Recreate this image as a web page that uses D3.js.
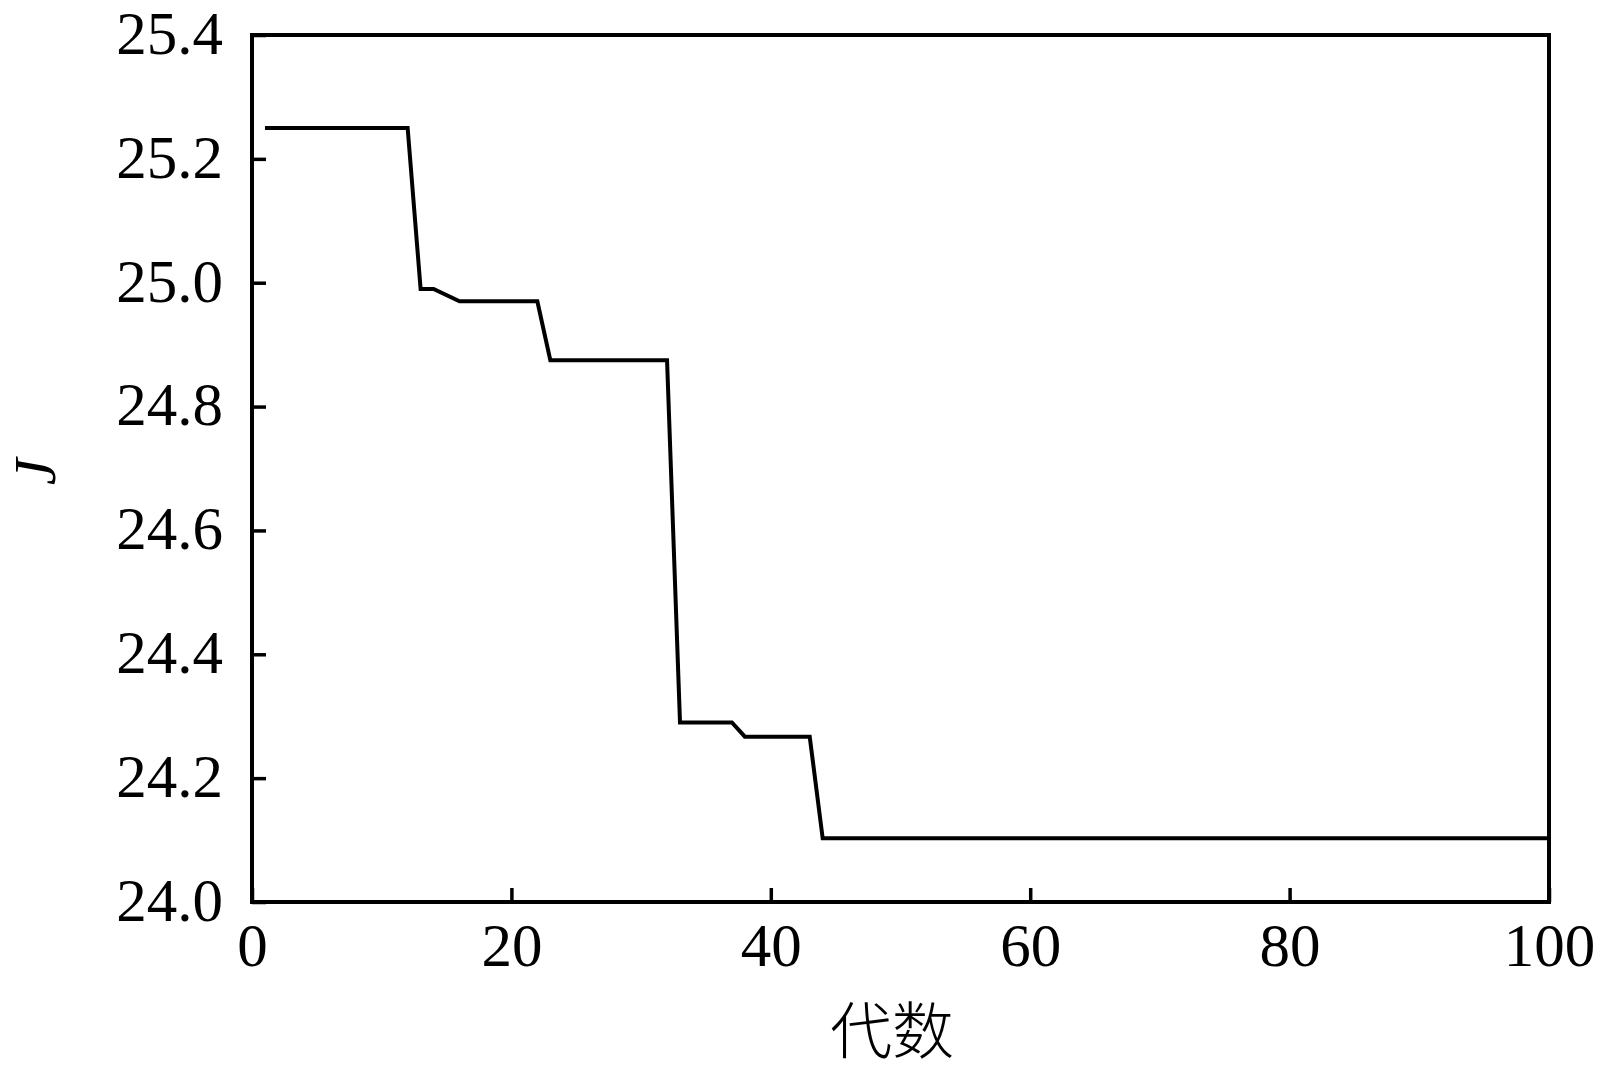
<!DOCTYPE html>
<html><head><meta charset="utf-8">
<script src="https://cdn.jsdelivr.net/npm/d3@7"></script>
<style>html,body{margin:0;padding:0;background:#fff;}svg{display:block;}</style>
</head><body>
<svg id="chart" width="1599" height="1073"></svg>
<script>
// Convergence of J over generations (breakpoints of the curve)
const generations = [1, 12, 13, 14, 16, 22, 23, 32, 33, 37, 38, 43, 44, 100];
const jValues     = [25.25, 25.25, 24.99, 24.99, 24.97, 24.97, 24.875, 24.875, 24.29, 24.29, 24.267, 24.267, 24.103, 24.103];
const xTicks = [0, 20, 40, 60, 80, 100];
const yTicks = [24.0, 24.2, 24.4, 24.6, 24.8, 25.0, 25.2, 25.4];
const xLabel = "代数";
const yLabel = "J";

const svg = d3.select("#chart");
const m = {left: 252, right: 1549, top: 35, bottom: 902};
const x = d3.scaleLinear().domain([0, 100]).range([m.left, m.right]);
const y = d3.scaleLinear().domain([24.0, 25.4]).range([m.bottom, m.top]);
const serif = "'Liberation Serif', 'Times New Roman', serif";

// line
const line = d3.line().x((d, i) => x(generations[i])).y(d => y(d));
svg.append("path").datum(jValues)
  .attr("d", line).attr("fill", "none").attr("stroke", "#000")
  .attr("stroke-width", 4).attr("stroke-linejoin", "miter");

// axes (ticks inward)
const xAxis = svg.append("g").attr("transform", `translate(0,${m.bottom})`)
  .call(d3.axisBottom(x).tickValues(xTicks).tickSizeInner(-14).tickSizeOuter(0).tickPadding(21).tickFormat(d3.format("d")));
const yAxis = svg.append("g").attr("transform", `translate(${m.left},0)`)
  .call(d3.axisLeft(y).tickValues(yTicks).tickSizeInner(-14).tickSizeOuter(0).tickPadding(29).tickFormat(d3.format(".1f")));
[xAxis, yAxis].forEach(g => {
  g.select(".domain").remove();
  g.selectAll(".tick line").attr("stroke", "#000").attr("stroke-width", 3.5);
  g.selectAll("text").attr("fill", "#000").style("font-family", serif).style("font-size", "61px");
});
xAxis.selectAll("text").attr("dy", "0.71em");
yAxis.selectAll("text").attr("dy", "0.30em");

// frame
svg.append("rect").attr("x", m.left).attr("y", m.top)
  .attr("width", m.right - m.left).attr("height", m.bottom - m.top)
  .attr("fill", "none").attr("stroke", "#000").attr("stroke-width", 4);

// axis labels
svg.append("text").attr("x", 892).attr("y", 1054).attr("text-anchor", "middle")
  .style("font-family", "'Noto Sans CJK SC', sans-serif").style("font-size", "62px").style("font-weight", 300)
  .attr("fill", "#000").text(xLabel);
svg.append("text").attr("transform", "translate(55,472) rotate(-90)").attr("text-anchor", "middle")
  .style("font-family", serif).style("font-size", "60px").style("font-style", "italic")
  .attr("fill", "#000").text(yLabel);
</script>
</body></html>
